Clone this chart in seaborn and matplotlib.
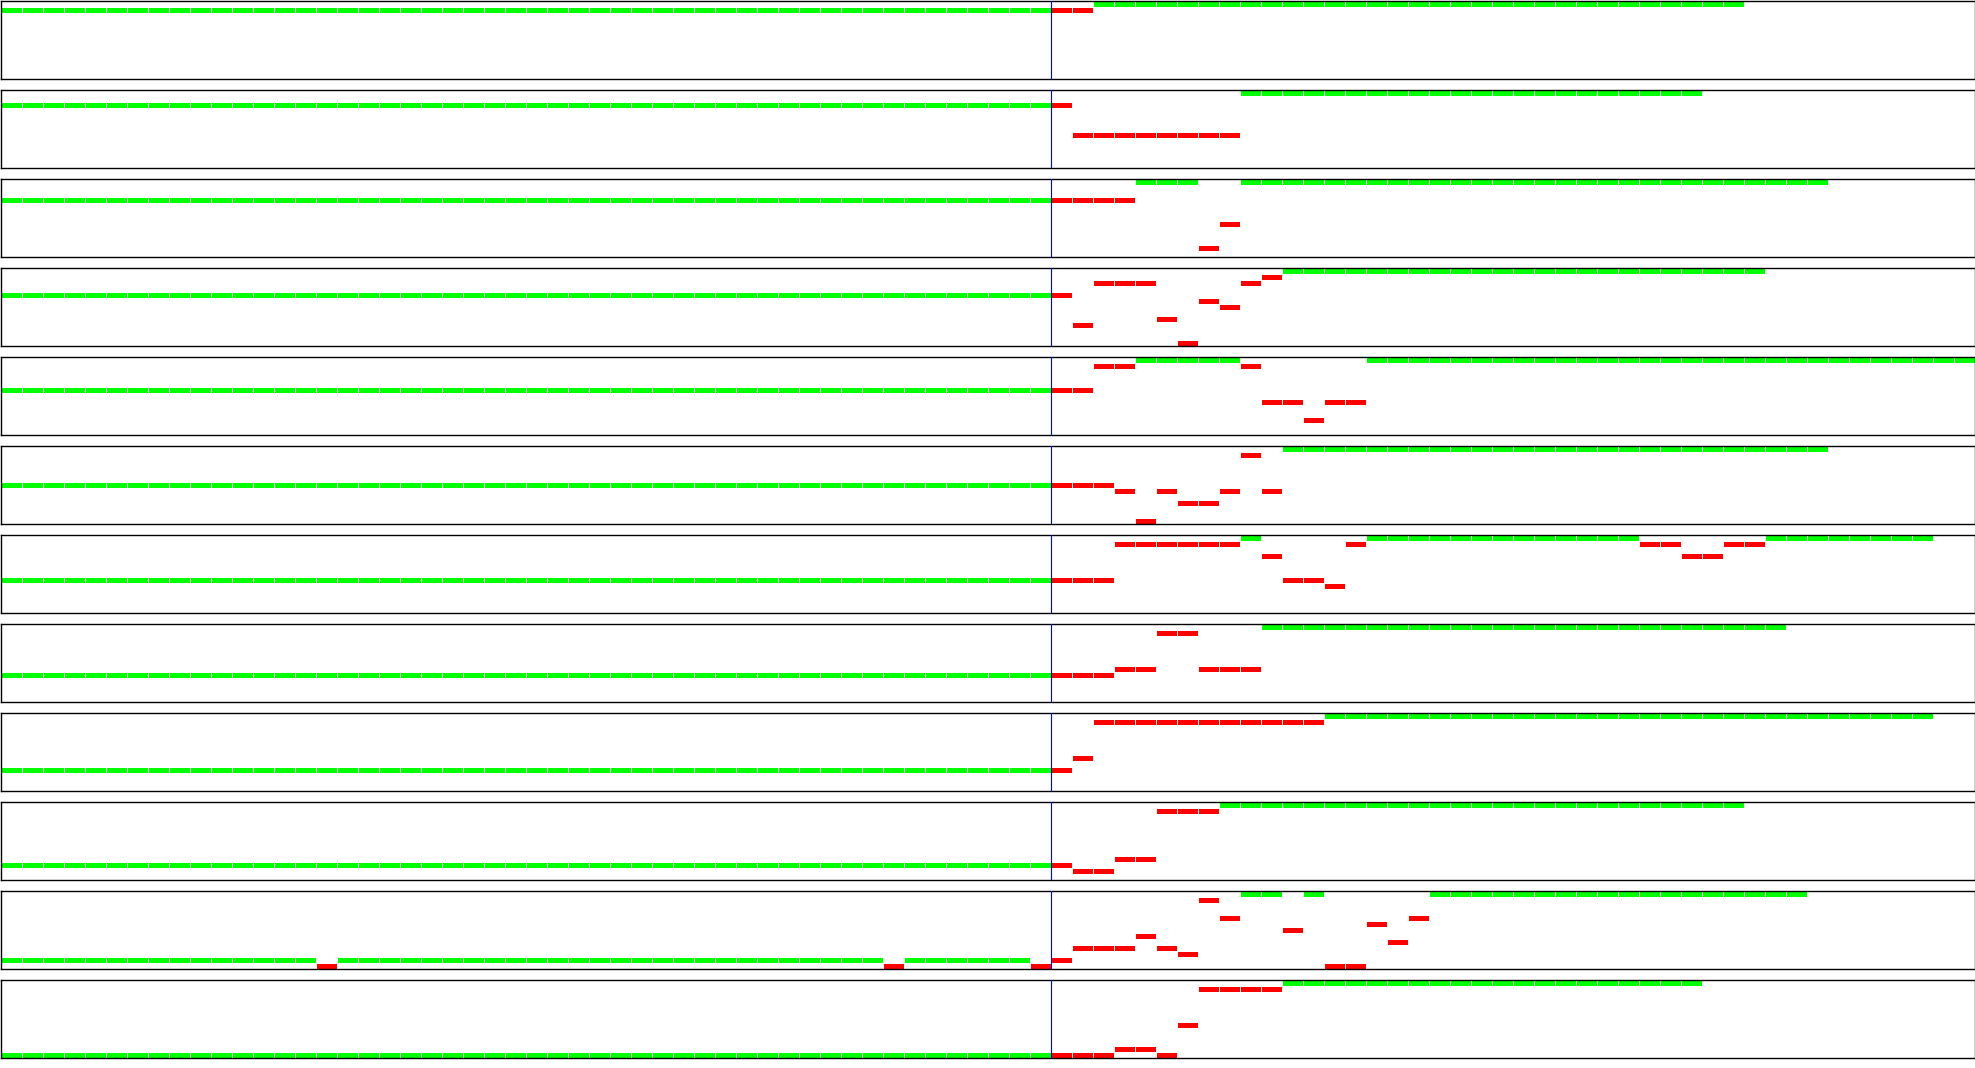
import numpy as np
import seaborn as sns
import matplotlib.pyplot as plt
from matplotlib.colors import ListedColormap

# grid size of every panel: 13 levels, 94 time steps, forecast starts at step 50
n_levels = 13
n_steps = 94
split_step = 50

# level held during the context part (steps 0-49), one per panel
context_rows = [1, 2, 3, 4, 5, 6, 7, 8, 9, 10, 11, 12]
# context steps where the value left its level: (panel, step, level)
context_slips = [(10, 15, 12), (10, 42, 12), (10, 49, 12)]

# predicted level for each step from step 50 on (target level is 0)
forecast_01 = [1, 1, 0, 0, 0, 0, 0, 0, 0, 0, 0, 0, 0, 0, 0, 0, 0, 0, 0, 0, 0, 0, 0, 0,
               0, 0, 0, 0, 0, 0, 0, 0, 0]
forecast_02 = [2, 7, 7, 7, 7, 7, 7, 7, 7, 0, 0, 0, 0, 0, 0, 0, 0, 0, 0, 0, 0, 0, 0, 0,
               0, 0, 0, 0, 0, 0, 0]
forecast_03 = [3, 3, 3, 3, 0, 0, 0, 11, 7, 0, 0, 0, 0, 0, 0, 0, 0, 0, 0, 0, 0, 0, 0, 0,
               0, 0, 0, 0, 0, 0, 0, 0, 0, 0, 0, 0, 0]
forecast_04 = [4, 9, 2, 2, 2, 8, 12, 5, 6, 2, 1, 0, 0, 0, 0, 0, 0, 0, 0, 0, 0, 0, 0, 0,
               0, 0, 0, 0, 0, 0, 0, 0, 0, 0]
forecast_05 = [5, 5, 1, 1, 0, 0, 0, 0, 0, 1, 7, 7, 10, 7, 7, 0, 0, 0, 0, 0, 0, 0, 0, 0,
               0, 0, 0, 0, 0, 0, 0, 0, 0, 0, 0, 0, 0, 0, 0, 0, 0, 0, 0, 0]
forecast_06 = [6, 6, 6, 7, 12, 7, 9, 9, 7, 1, 7, 0, 0, 0, 0, 0, 0, 0, 0, 0, 0, 0, 0, 0,
               0, 0, 0, 0, 0, 0, 0, 0, 0, 0, 0, 0, 0]
forecast_07 = [7, 7, 7, 1, 1, 1, 1, 1, 1, 0, 3, 7, 7, 8, 1, 0, 0, 0, 0, 0, 0, 0, 0, 0,
               0, 0, 0, 0, 1, 1, 3, 3, 1, 1, 0, 0, 0, 0, 0, 0, 0, 0]
forecast_08 = [8, 8, 8, 7, 7, 1, 1, 7, 7, 7, 0, 0, 0, 0, 0, 0, 0, 0, 0, 0, 0, 0, 0, 0,
               0, 0, 0, 0, 0, 0, 0, 0, 0, 0, 0]
forecast_09 = [9, 7, 1, 1, 1, 1, 1, 1, 1, 1, 1, 1, 1, 0, 0, 0, 0, 0, 0, 0, 0, 0, 0, 0,
               0, 0, 0, 0, 0, 0, 0, 0, 0, 0, 0, 0, 0, 0, 0, 0, 0, 0]
forecast_10 = [10, 11, 11, 9, 9, 1, 1, 1, 0, 0, 0, 0, 0, 0, 0, 0, 0, 0, 0, 0, 0, 0, 0, 0,
               0, 0, 0, 0, 0, 0, 0, 0, 0]
forecast_11 = [11, 9, 9, 9, 7, 9, 10, 1, 4, 0, 0, 6, 0, 12, 12, 5, 8, 4, 0, 0, 0, 0, 0, 0,
               0, 0, 0, 0, 0, 0, 0, 0, 0, 0, 0, 0]
forecast_12 = [12, 12, 12, 11, 11, 12, 7, 1, 1, 1, 1, 0, 0, 0, 0, 0, 0, 0, 0, 0, 0, 0, 0, 0,
               0, 0, 0, 0, 0, 0, 0]
forecasts = [forecast_01, forecast_02, forecast_03, forecast_04, forecast_05, forecast_06,
             forecast_07, forecast_08, forecast_09, forecast_10, forecast_11, forecast_12]

target_level = 0
hit_miss = ListedColormap(['#00ff00', '#ff0000'])  # 0 = on target, 1 = off target


def panel_grid(p):
    """level x step matrix: 0 where the value sits on its target, 1 where it misses"""
    grid = np.full((n_levels, n_steps), np.nan)
    ctx = [context_rows[p]] * split_step
    for panel, step, level in context_slips:
        if panel == p:
            ctx[step] = level
    for step, level in enumerate(ctx):
        grid[level, step] = 0 if level == context_rows[p] else 1
    for i, level in enumerate(forecasts[p]):
        grid[level, split_step + i] = 0 if level == target_level else 1
    return grid


W, H = 1975, 1068
fig = plt.figure(figsize=(W / 100, H / 100), dpi=100)

slot = 89
ax_h = 78
for p in range(len(forecasts)):
    top = p * slot + 0.5
    ax = fig.add_axes([0.5 / W, 1 - (top + ax_h) / H, 1974 / W, ax_h / H])
    grid = panel_grid(p)
    sns.heatmap(grid, mask=np.isnan(grid), cmap=hit_miss, vmin=0, vmax=1,
                linewidths=0.72, linecolor='white', cbar=False,
                xticklabels=False, yticklabels=False, ax=ax)
    ax.axvline(split_step, color='#0000ff', lw=0.8, zorder=5)
    ax.set_xlim(0, n_steps)
    ax.set_ylim(n_levels, 0)
    for side in ax.spines.values():
        side.set_visible(True)
        side.set_color('black')
        side.set_linewidth(1.0)

fig.savefig('out.png', dpi=100, facecolor='white')
plt.close()
